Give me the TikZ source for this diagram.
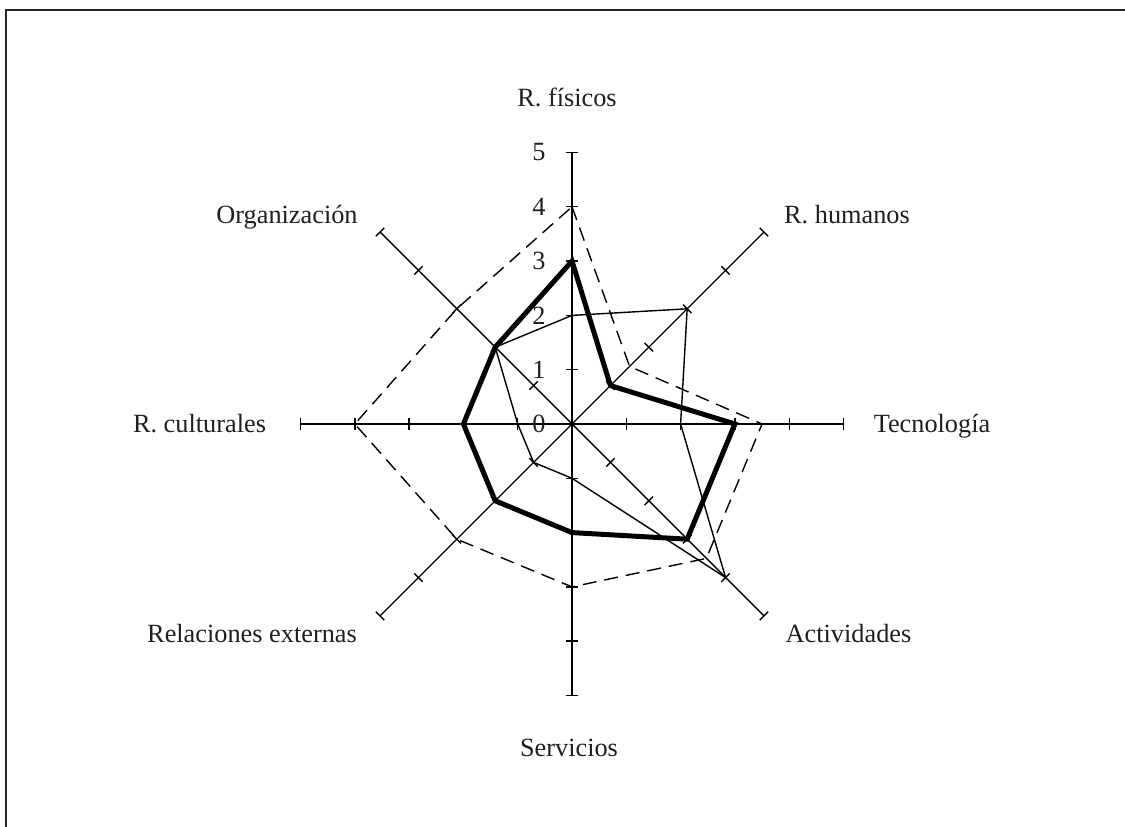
\documentclass[tikz,border=0pt]{standalone}
\usepackage{fontspec}
\setmainfont{Liberation Serif}
\begin{document}
\begin{tikzpicture}[x=1pt,y=1pt,
  axisline/.style={line width=1.4pt, black},
  tickmark/.style={line width=1.4pt, black},
  seriesthin/.style={line width=1.4pt, line join=miter, black},
  seriesthick/.style={line width=5pt, line join=miter, black},
  seriesdash/.style={line width=1.4pt, dash pattern=on 14pt off 8pt, black},
  lbl/.style={font=\fontsize{26.3}{31}\selectfont, inner sep=0pt, anchor=base, text=black!88},
  num/.style={font=\fontsize{26.3}{31}\selectfont, inner sep=0pt, anchor=center, text=black!88},
]
\useasboundingbox (0,0) rectangle (1125,827);
\draw[line width=2pt, black!85] (6,-20) -- (6,817) -- (1145,817);
\def\u{54.3}
\begin{scope}[shift={(572,403)}]
  \coordinate (C) at (0,0);
  % axes with ticks
  \foreach \name/\ang in {fis/90,hum/45,tec/0,act/-45,ser/-90,rel/-135,cul/180,org/135}{
    \begin{scope}[rotate=\ang]
      \coordinate (\name-end) at (5*\u,0);
      \draw[axisline] (C) -- (\name-end);
      \foreach \k in {1,...,5}{
        \draw[tickmark] (\k*\u,-6) -- (\k*\u,6);
      }
    \end{scope}
  }
  % data points
  \foreach \s/\a/\b/\c/\d/\e/\f/\g/\h in {
      thin/2/3/2/4/1/1/1/2,
      thick/3/1/3/3/2/2/2/2,
      dash/4/1.5/3.5/3.5/3/3/4/3}{
    \coordinate (\s-fis) at (90:\a*\u);
    \coordinate (\s-hum) at (45:\b*\u);
    \coordinate (\s-tec) at (0:\c*\u);
    \coordinate (\s-act) at (-45:\d*\u);
    \coordinate (\s-ser) at (-90:\e*\u);
    \coordinate (\s-rel) at (-135:\f*\u);
    \coordinate (\s-cul) at (180:\g*\u);
    \coordinate (\s-org) at (135:\h*\u);
  }
  \draw[seriesdash] (dash-fis) -- (dash-hum) -- (dash-tec) -- (dash-act) -- (dash-ser) -- (dash-rel) -- (dash-cul) -- (dash-org) -- cycle;
  \draw[seriesthin] (thin-fis) -- (thin-hum) -- (thin-tec) -- (thin-act) -- (thin-ser) -- (thin-rel) -- (thin-cul) -- (thin-org) -- cycle;
  \draw[seriesthick] (thick-fis) -- (thick-hum) -- (thick-tec) -- (thick-act) -- (thick-ser) -- (thick-rel) -- (thick-cul) -- (thick-org) -- cycle;
  % scale numbers
  \foreach \k in {0,...,5}{
    \node[num] (n\k) at (-33,\k*\u) {\k};
  }
\end{scope}
% axis labels
\node[lbl] (lfis) at (567,720) {R. físicos};
\node[lbl] (lhum) at (847,603) {R. humanos};
\node[lbl] (lorg) at (287,603) {Organización};
\node[lbl] (ltec) at (932,394) {Tecnología};
\node[lbl] (lcul) at (199.5,394) {R. culturales};
\node[lbl] (lrel) at (252,184) {Relaciones externas};
\node[lbl] (lact) at (848.5,184) {Actividades};
\node[lbl] (lser) at (569,70) {Servicios};
\end{tikzpicture}
\end{document}
